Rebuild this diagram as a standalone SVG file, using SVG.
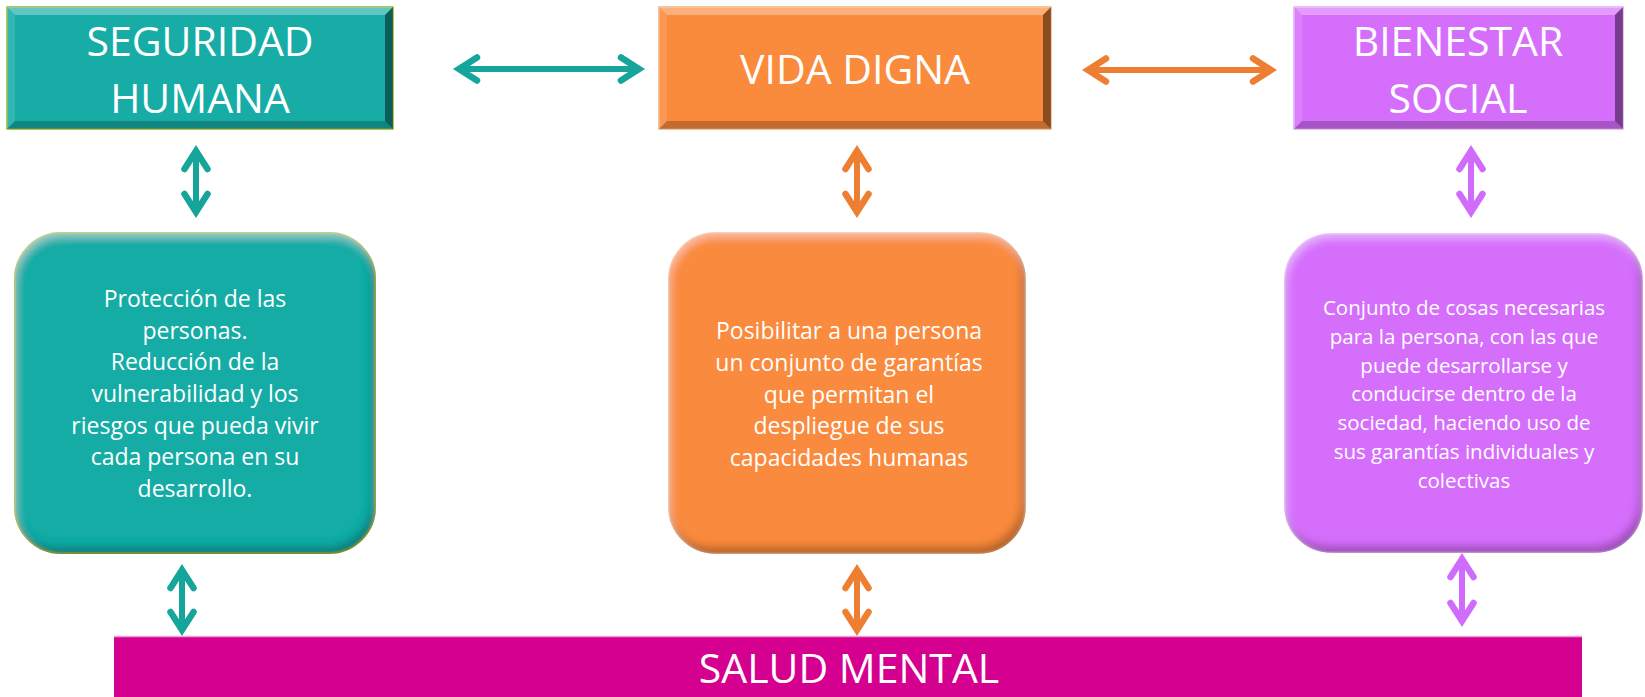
<svg xmlns="http://www.w3.org/2000/svg" width="1645" height="697" viewBox="0 0 1645 697">
<style>
.t{font-family:"Open Sans","DejaVu Sans",sans-serif;fill:#fff;text-anchor:middle}
.big{font-size:41px}
.mid{font-size:23px}
.sm{font-size:20.5px}
.lt{fill:#fff;opacity:.32}
.lt2{fill:#fff;opacity:.12}
.dk{fill:#000;opacity:.22}
.dk2{fill:#000;opacity:.45}
.ct{stroke:#16A59B}
.co{stroke:#EE7E32}
.cp{stroke:#CF6CFC}
.ln{fill:none;stroke-width:6}
</style>
<defs>
<marker id="mT" viewBox="-30 -20 40 40" refX="0" refY="0" markerWidth="40" markerHeight="40" markerUnits="userSpaceOnUse" orient="auto-start-reverse"><path d="M-19,-11.5 L-1,0 L-19,11.5" fill="none" stroke="#16A59B" stroke-width="6.5" stroke-linecap="round"/></marker>
<marker id="mO" viewBox="-30 -20 40 40" refX="0" refY="0" markerWidth="40" markerHeight="40" markerUnits="userSpaceOnUse" orient="auto-start-reverse"><path d="M-19,-11.5 L-1,0 L-19,11.5" fill="none" stroke="#EE7E32" stroke-width="6.5" stroke-linecap="round"/></marker>
<marker id="mP" viewBox="-30 -20 40 40" refX="0" refY="0" markerWidth="40" markerHeight="40" markerUnits="userSpaceOnUse" orient="auto-start-reverse"><path d="M-19,-11.5 L-1,0 L-19,11.5" fill="none" stroke="#CF6CFC" stroke-width="6.5" stroke-linecap="round"/></marker>
<filter id="bev" x="-5%" y="-5%" width="110%" height="110%">
<feGaussianBlur in="SourceAlpha" stdDeviation="4" result="b"/>
<feOffset in="b" dx="-4" dy="-7" result="o1"/>
<feComposite in="SourceAlpha" in2="o1" operator="out" result="r1"/>
<feFlood flood-color="#000" flood-opacity="0.5"/>
<feComposite in2="r1" operator="in" result="dark"/>
<feOffset in="b" dx="2" dy="5" result="o2"/>
<feComposite in="SourceAlpha" in2="o2" operator="out" result="r2"/>
<feFlood flood-color="#fff" flood-opacity="0.35"/>
<feComposite in2="r2" operator="in" result="light"/>
<feMerge><feMergeNode in="SourceGraphic"/><feMergeNode in="dark"/><feMergeNode in="light"/></feMerge>
</filter>
</defs>

<g id="seguridad-humana">
<rect x="7" y="7" width="386" height="122" fill="#17ACA6" stroke="#8CB63C" stroke-width="1.5"/>
<polygon class="lt" points="7,7 393,7 385,15 15,15"/>
<polygon class="lt2" points="7,7 15,15 15,121 7,129"/>
<polygon class="dk" points="7,129 15,121 385,121 393,129"/>
<polygon class="dk2" points="393,7 393,129 385,121 385,15"/>
<text class="t big" x="200" y="56">SEGURIDAD</text>
<text class="t big" x="200" y="113">HUMANA</text>
</g>

<g id="vida-digna">
<rect x="659" y="7" width="392" height="122" fill="#FA8A3C" stroke="#F5B07A" stroke-width="1.5"/>
<polygon class="lt" points="659,7 1051,7 1043,15 667,15"/>
<polygon class="lt2" points="659,7 667,15 667,121 659,129"/>
<polygon class="dk" points="659,129 667,121 1043,121 1051,129"/>
<polygon class="dk2" points="1051,7 1051,129 1043,121 1043,15"/>
<text class="t big" x="855" y="84">VIDA DIGNA</text>
</g>

<g id="bienestar-social">
<rect x="1294" y="7" width="329" height="122" fill="#D66EFC" stroke="#E3A6F7" stroke-width="1.5"/>
<polygon class="lt" points="1294,7 1623,7 1615,15 1302,15"/>
<polygon class="lt2" points="1294,7 1302,15 1302,121 1294,129"/>
<polygon class="dk" points="1294,129 1302,121 1615,121 1623,129"/>
<polygon class="dk2" points="1623,7 1623,129 1615,121 1615,15"/>
<text class="t big" x="1458" y="56">BIENESTAR</text>
<text class="t big" x="1458" y="113">SOCIAL</text>
</g>

<g id="def-seguridad">
<rect x="15" y="233" width="360" height="320" rx="46" fill="#17ACA6" stroke="#8CB63C" stroke-width="2" filter="url(#bev)"/>
<text class="t mid" x="195" y="307">Protección de las</text>
<text class="t mid" x="195" y="338.7">personas.</text>
<text class="t mid" x="195" y="370.4">Reducción de la</text>
<text class="t mid" x="195" y="402">vulnerabilidad y los</text>
<text class="t mid" x="195" y="433.7">riesgos que pueda vivir</text>
<text class="t mid" x="195" y="465.4">cada persona en su</text>
<text class="t mid" x="195" y="497">desarrollo.</text>
</g>

<g id="def-vida">
<rect x="669" y="233" width="356" height="320" rx="46" fill="#FA8A3C" stroke="#F4A866" stroke-width="1.5" filter="url(#bev)"/>
<text class="t mid" x="849" y="339">Posibilitar a una persona</text>
<text class="t mid" x="849" y="371">un conjunto de garantías</text>
<text class="t mid" x="849" y="402.5">que permitan el</text>
<text class="t mid" x="849" y="434">despliegue de sus</text>
<text class="t mid" x="849" y="466">capacidades humanas</text>
</g>

<g id="def-bienestar">
<rect x="1285" y="234" width="357" height="318" rx="46" fill="#D66EFC" stroke="#DE96F8" stroke-width="1.5" filter="url(#bev)"/>
<text class="t sm" x="1464" y="315">Conjunto de cosas necesarias</text>
<text class="t sm" x="1464" y="343.8">para la persona, con las que</text>
<text class="t sm" x="1464" y="372.6">puede desarrollarse y</text>
<text class="t sm" x="1464" y="401.4">conducirse dentro de la</text>
<text class="t sm" x="1464" y="430.2">sociedad, haciendo uso de</text>
<text class="t sm" x="1464" y="459">sus garantías individuales y</text>
<text class="t sm" x="1464" y="487.8">colectivas</text>
</g>

<g id="salud-mental">
<rect x="114" y="636" width="1468" height="61" fill="#D5008F"/>
<line x1="114" y1="636.5" x2="1582" y2="636.5" stroke="#EBA3D3" stroke-width="1.5"/>
<text class="t big" x="849" y="683">SALUD MENTAL</text>
</g>

<g id="connectors">
<line class="ln ct" x1="458" y1="69" x2="640" y2="69" marker-start="url(#mT)" marker-end="url(#mT)"/>
<line class="ln co" x1="1087" y1="70" x2="1272" y2="70" marker-start="url(#mO)" marker-end="url(#mO)"/>
<line class="ln ct" x1="196" y1="150" x2="196" y2="213" marker-start="url(#mT)" marker-end="url(#mT)"/>
<line class="ln co" x1="857" y1="150" x2="857" y2="213" marker-start="url(#mO)" marker-end="url(#mO)"/>
<line class="ln cp" x1="1471" y1="150" x2="1471" y2="213" marker-start="url(#mP)" marker-end="url(#mP)"/>
<line class="ln ct" x1="182" y1="569" x2="182" y2="631" marker-start="url(#mT)" marker-end="url(#mT)"/>
<line class="ln co" x1="857" y1="569" x2="857" y2="631" marker-start="url(#mO)" marker-end="url(#mO)"/>
<line class="ln cp" x1="1462" y1="558" x2="1462" y2="622" marker-start="url(#mP)" marker-end="url(#mP)"/>
</g>
</svg>
